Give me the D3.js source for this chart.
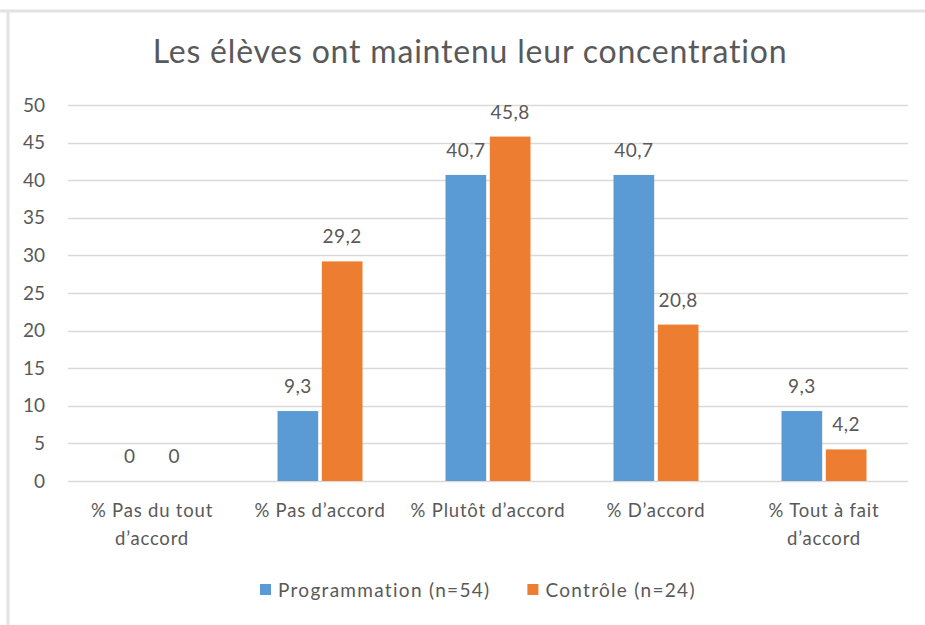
<!DOCTYPE html>
<html>
<head>
<meta charset="utf-8">
<script src="https://cdn.jsdelivr.net/npm/d3@7"></script>
<style>
	body { margin: 0; background: #fff; }
	text { font-family: Lato, "Open Sans", sans-serif; fill: #595959; }
</style>
</head>
<body>
<div id="chart"></div>
<script>
var WIDTH = 925;
var HEIGHT = 625;

var categories = ['% Pas du tout d\u2019accord', '% Pas d\u2019accord', '% Plut\u00f4t d\u2019accord', '% D\u2019accord', '% Tout \u00e0 fait d\u2019accord'];
var seriesNames = ['Programmation (n=54)', 'Contr\u00f4le (n=24)'];
var programmation = [0, 9.3, 40.7, 40.7, 9.3];
var controle = [0, 29.2, 45.8, 20.8, 4.2];
var yTicks = [0, 5, 10, 15, 20, 25, 30, 35, 40, 45, 50];
var colors = ['#5B9BD5', '#ED7D31'];

var margin = {left: 68, right: 17, top: 105, bottom: 144};

var svg = d3.select('#chart').append('svg')
	.attr('width', WIDTH)
	.attr('height', HEIGHT);

// chart frame (only top and left edges are visible in the capture)
svg.append('line').attr('x1', 0).attr('x2', WIDTH).attr('y1', 11).attr('y2', 11)
	.attr('stroke', '#e3e3e3').attr('stroke-width', 3);
svg.append('line').attr('x1', 8).attr('x2', 8).attr('y1', 11).attr('y2', HEIGHT)
	.attr('stroke', '#e3e3e3').attr('stroke-width', 3);

svg.append('text')
	.attr('x', 470)
	.attr('y', 63)
	.attr('text-anchor', 'middle')
	.style('font-size', '32px')
	.style('letter-spacing', '0.8px')
	.text('Les \u00e9l\u00e8ves ont maintenu leur concentration');

var x = d3.scaleBand()
	.domain(categories)
	.range([margin.left, WIDTH - margin.right]);

var y = d3.scaleLinear()
	.domain([0, 50])
	.range([HEIGHT - margin.bottom, margin.top]);

var barW = 39, gap = 7;
var x1 = d3.scaleBand()
	.domain([0, 1])
	.range([x.bandwidth() / 2 - barW - gap / 2, x.bandwidth() / 2 + barW + gap / 2])
	.paddingInner(gap / (2 * barW + gap));

// gridlines
svg.append('g')
	.selectAll('line')
	.data(yTicks)
	.join('line')
	.attr('x1', margin.left)
	.attr('x2', WIDTH - margin.right)
	.attr('y1', function(d) { return Math.round(y(d)) + 0.5; })
	.attr('y2', function(d) { return Math.round(y(d)) + 0.5; })
	.attr('stroke', '#d9d9d9')
	.attr('stroke-width', 1.5);

// y axis labels
var yAxis = svg.append('g')
	.attr('transform', 'translate(' + (margin.left - 23) + ',0)')
	.call(d3.axisLeft(y).tickValues(yTicks).tickSize(0).tickPadding(0));
yAxis.select('.domain').remove();
yAxis.selectAll('text')
	.style('font-size', '19px')
	.style('font-family', 'Lato, sans-serif')
	.attr('fill', '#595959');

var series = [programmation, controle];

series.forEach(function(vals, si) {
	var g = svg.append('g');
	g.selectAll('rect')
		.data(vals)
		.join('rect')
		.attr('x', function(d, i) { return x(categories[i]) + x1(si); })
		.attr('y', function(d) { return y(d); })
		.attr('width', x1.bandwidth())
		.attr('height', function(d) { return y(0) - y(d); })
		.attr('fill', colors[si]);

	g.selectAll('text')
		.data(vals)
		.join('text')
		.attr('x', function(d, i) { return x(categories[i]) + x1(si) + x1.bandwidth() / 2; })
		.attr('y', function(d) { return y(d) - 18; })
		.attr('text-anchor', 'middle')
		.style('font-size', '19px')
		.style('letter-spacing', '0.5px')
		.text(function(d) { return String(d).replace('.', ','); });
});

// category labels, wrapped to the band width
var catG = svg.append('g');
categories.forEach(function(c) {
	var cx = x(c) + x.bandwidth() / 2;
	var t = catG.append('text')
		.attr('x', cx)
		.attr('y', 517)
		.attr('text-anchor', 'middle')
		.style('font-size', '18.5px')
		.style('letter-spacing', '0.8px');
	var words = c.split(' ');
	var line = [];
	var tspan = t.append('tspan').attr('x', cx).attr('dy', 0);
	words.forEach(function(w) {
		line.push(w);
		tspan.text(line.join(' '));
		if (tspan.node().getComputedTextLength() > x.bandwidth() + 4 && line.length > 1) {
			line.pop();
			tspan.text(line.join(' '));
			line = [w];
			tspan = t.append('tspan').attr('x', cx).attr('dy', 28).text(w);
		}
	});
});

// legend
var legend = svg.append('g');
var lx = 260;
seriesNames.forEach(function(name, i) {
	legend.append('rect')
		.attr('x', lx).attr('y', 584)
		.attr('width', 11).attr('height', 11)
		.attr('fill', colors[i]);
	var t = legend.append('text')
		.attr('x', lx + 18).attr('y', 597)
		.style('font-size', '19px')
		.style('letter-spacing', '1.3px')
		.text(name);
	lx += 18 + t.node().getComputedTextLength() + 37;
});
</script>
</body>
</html>
